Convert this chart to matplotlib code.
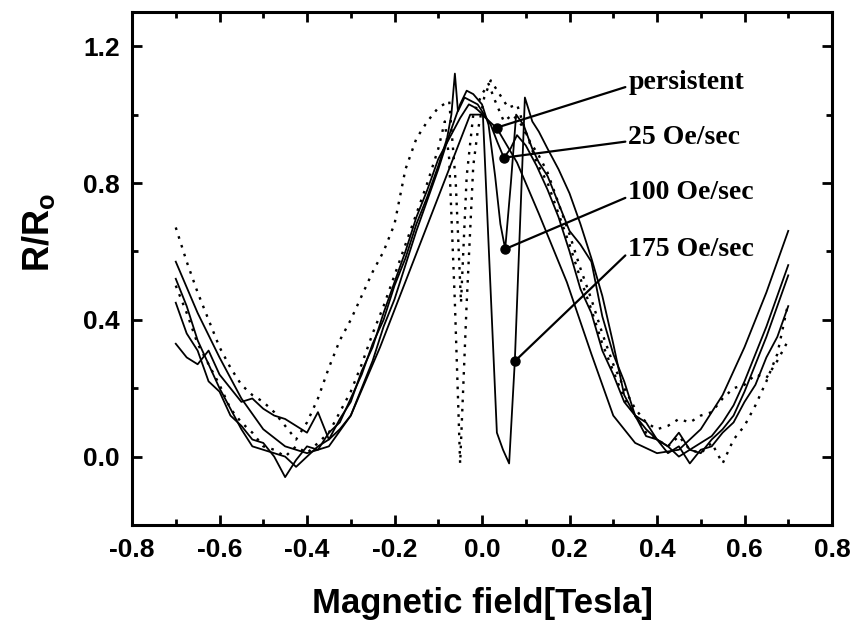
import matplotlib
matplotlib.use("Agg")
import matplotlib.pyplot as plt
from matplotlib.ticker import MultipleLocator, FormatStrFormatter

plt.rcParams['font.family'] = ['Liberation Sans', 'DejaVu Sans']
plt.rcParams['font.weight'] = 'bold'
plt.rcParams['axes.unicode_minus'] = False
plt.rcParams['mathtext.fontset'] = 'custom'
plt.rcParams['mathtext.bf'] = 'Liberation Sans:bold'
plt.rcParams['mathtext.rm'] = 'Liberation Sans:bold'

# shared field grid for the wings of each sweep (Tesla)
field_left = [-0.700, -0.675, -0.650, -0.625, -0.600, -0.575, -0.550, -0.525,
              -0.500, -0.475, -0.450, -0.425, -0.400, -0.375, -0.350, -0.325,
              -0.300, -0.275, -0.250, -0.225, -0.200, -0.175, -0.150, -0.125,
              -0.100]
field_right = [0.150, 0.175, 0.200, 0.225, 0.250, 0.275, 0.300, 0.325, 0.350,
               0.375, 0.400, 0.425, 0.450, 0.475, 0.500, 0.525, 0.550, 0.575,
               0.600, 0.625, 0.650, 0.675, 0.700]

# persistent mode (smooth solid)
persist_x = [-0.70, -0.65, -0.60, -0.55, -0.50, -0.45, -0.40, -0.35, -0.30, -0.233,
             -0.027, 0.00, 0.034, 0.08, 0.13, 0.194, 0.25, 0.30, 0.35, 0.40, 0.45,
             0.50, 0.55, 0.60, 0.65, 0.70]
persist_y = [0.57, 0.42, 0.29, 0.17, 0.08, 0.03, 0.01, 0.03, 0.12, 0.32,
             1.00, 1.00, 0.96, 0.86, 0.71, 0.51, 0.30, 0.12, 0.04, 0.01, 0.02,
             0.08, 0.18, 0.32, 0.48, 0.66]

# 25 Oe/sec
r25_mid_x = [-0.08, -0.07, -0.062, -0.055, -0.04, -0.025, -0.01, 0.005, 0.02,
             0.035, 0.05, 0.065, 0.08, 0.10, 0.125]
r25_left = [0.45, 0.36, 0.31, 0.22, 0.19, 0.12, 0.09, 0.05, 0.04, 0.00, -0.06,
            -0.01, 0.03, 0.02, 0.07, 0.10, 0.17, 0.24, 0.33, 0.40, 0.50, 0.58,
            0.68, 0.76, 0.85]
r25_mid = [0.93, 1.00, 1.12, 1.01, 1.05, 1.04, 1.03, 1.00, 0.97, 0.92, 0.874,
           0.90, 0.94, 0.91, 0.85]
r25_right = [0.78, 0.70, 0.60, 0.49, 0.42, 0.31, 0.24, 0.16, 0.12, 0.06, 0.05,
             0.01, 0.03, -0.02, 0.02, 0.03, 0.07, 0.10, 0.16, 0.21, 0.29, 0.35,
             0.44]

# 100 Oe/sec
r100_mid_x = [-0.075, -0.05, -0.035, -0.02, 0.0, 0.015, 0.03, 0.042, 0.053,
              0.066, 0.078, 0.095, 0.115, 0.13]
r100_left = [0.33, 0.29, 0.27, 0.31, 0.24, 0.20, 0.16, 0.17, 0.14, 0.12, 0.11,
             0.09, 0.07, 0.13, 0.05, 0.08, 0.12, 0.20, 0.28, 0.38, 0.46, 0.56,
             0.66, 0.75, 0.84]
r100_mid = [0.94, 1.03, 1.07, 1.06, 1.03, 0.97, 0.82, 0.68, 0.607, 0.80, 1.00,
            0.97, 0.90, 0.86]
r100_right = [0.82, 0.74, 0.66, 0.62, 0.57, 0.41, 0.30, 0.22, 0.12, 0.10, 0.05,
              0.03, 0.07, 0.02, 0.04, 0.06, 0.10, 0.15, 0.22, 0.30, 0.38, 0.47,
              0.56]

# 175 Oe/sec
r175_mid_x = [-0.075, -0.05, -0.03, -0.015, 0.002, 0.034, 0.048, 0.062, 0.075,
              0.098, 0.115, 0.13]
r175_left = [0.52, 0.44, 0.34, 0.27, 0.20, 0.14, 0.08, 0.03, 0.02, 0.01, 0.00,
             -0.03, 0.00, 0.03, 0.05, 0.11, 0.16, 0.25, 0.32, 0.42, 0.51, 0.60,
             0.70, 0.78, 0.87]
r175_mid = [0.93, 0.99, 1.03, 1.02, 1.00, 0.07, 0.02, -0.02, 0.279, 1.05, 0.98,
            0.95]
r175_right = [0.90, 0.84, 0.77, 0.68, 0.58, 0.47, 0.33, 0.18, 0.12, 0.08, 0.05,
              0.03, 0.00, 0.02, 0.01, 0.05, 0.08, 0.12, 0.19, 0.27, 0.35, 0.44,
              0.53]

# dotted sweeps
dotA_mid_x = [-0.085, -0.075, -0.062, -0.05, -0.035, -0.02, -0.01, 0.005, 0.02,
              0.04, 0.06, 0.08, 0.10, 0.125]
dotA_left = [0.50, 0.42, 0.33, 0.27, 0.21, 0.14, 0.10, 0.07, 0.03, 0.02, 0.00,
             0.03, 0.01, 0.04, 0.07, 0.13, 0.19, 0.27, 0.36, 0.44, 0.53, 0.62,
             0.71, 0.80, 0.90]
dotA_mid = [0.98, 0.87, 0.45, -0.02, 0.45, 0.85, 0.95, 1.05, 1.10, 1.06, 1.02,
            1.03, 0.95, 0.86]
dotA_right = [0.80, 0.71, 0.62, 0.52, 0.43, 0.33, 0.25, 0.17, 0.12, 0.07, 0.05,
              0.03, 0.06, 0.02, 0.01, 0.04, -0.02, 0.05, 0.09, 0.15, 0.22, 0.30,
              0.45]

dotB_mid_x = [-0.075, -0.06, -0.048, -0.035, -0.02, 0.0, 0.015, 0.03, 0.05,
              0.07, 0.09, 0.11, 0.13]
dotB_left = [0.67, 0.57, 0.48, 0.40, 0.32, 0.26, 0.21, 0.18, 0.16, 0.13, 0.09,
             0.05, 0.10, 0.17, 0.26, 0.34, 0.40, 0.47, 0.54, 0.60, 0.68, 0.84,
             0.93, 0.98, 1.02]
dotB_mid = [1.04, 0.80, 0.45, 0.82, 1.00, 1.06, 1.09, 1.04, 0.98, 1.00, 0.97,
            0.92, 0.88]
dotB_right = [0.83, 0.74, 0.65, 0.55, 0.46, 0.36, 0.27, 0.20, 0.14, 0.10, 0.08,
              0.09, 0.11, 0.10, 0.12, 0.13, 0.17, 0.20, 0.21, 0.24, 0.23, 0.28,
              0.34]

labels = ['persistent', '25 Oe/sec', '100 Oe/sec', '175 Oe/sec']
marker_x = [0.034, 0.050, 0.053, 0.075]
marker_y = [0.962, 0.874, 0.607, 0.279]
label_y = [1.094, 0.933, 0.771, 0.607]

fig = plt.figure(figsize=(8.55, 6.23), dpi=100)
ax = fig.add_axes([0.1544, 0.1573, 0.8187, 0.8234])

solid = dict(color='black', lw=1.3)
dotted = dict(color='black', lw=1.7, linestyle=(0, (1.1, 2.8)))

ax.plot(persist_x, persist_y, **solid)
ax.plot(field_left + r25_mid_x + field_right, r25_left + r25_mid + r25_right, **solid)
ax.plot(field_left + r100_mid_x + field_right, r100_left + r100_mid + r100_right, **solid)
ax.plot(field_left + r175_mid_x + field_right, r175_left + r175_mid + r175_right, **solid)
ax.plot(field_left + dotA_mid_x + field_right, dotA_left + dotA_mid + dotA_right, **dotted)
ax.plot(field_left + dotB_mid_x + field_right, dotB_left + dotB_mid + dotB_right, **dotted)

ax.plot(marker_x, marker_y, 'o', color='black', ms=6.5)
for lab, mx, my, ly in zip(labels, marker_x, marker_y, label_y):
    ax.annotate(lab, xy=(mx, my), xytext=(0.334, ly), ha='left', va='center',
                fontsize=20, fontweight='bold', family=['Liberation Serif'],
                arrowprops=dict(arrowstyle='-', lw=1.6, color='black',
                                shrinkA=0, shrinkB=0, relpos=(0, 0.35)))

ax.set_xlim(-0.8, 0.8)
ax.set_ylim(-0.2, 1.3)
ax.xaxis.set_major_locator(MultipleLocator(0.2))
ax.xaxis.set_minor_locator(MultipleLocator(0.1))
ax.yaxis.set_major_locator(MultipleLocator(0.4))
ax.yaxis.set_minor_locator(MultipleLocator(0.2))
ax.xaxis.set_major_formatter(FormatStrFormatter('%.1f'))
ax.yaxis.set_major_formatter(FormatStrFormatter('%.1f'))

ax.tick_params(which='both', direction='in', top=True, right=True, width=2, labelsize=19)
ax.tick_params(axis='x', which='major', length=7, pad=9)
ax.tick_params(axis='y', which='major', length=7, pad=9)
ax.tick_params(which='minor', length=4)
for sp in ax.spines.values():
    sp.set_linewidth(2.2)

ax.set_xlabel('Magnetic field[Tesla]', fontsize=25, fontweight='bold')
ax.set_ylabel(r'$\mathbf{R/R_o}$', fontsize=26)
ax.xaxis.set_label_coords(0.5, -0.12)
ax.yaxis.set_label_coords(-0.107, 0.571)

fig.savefig('out.png', dpi=100)
